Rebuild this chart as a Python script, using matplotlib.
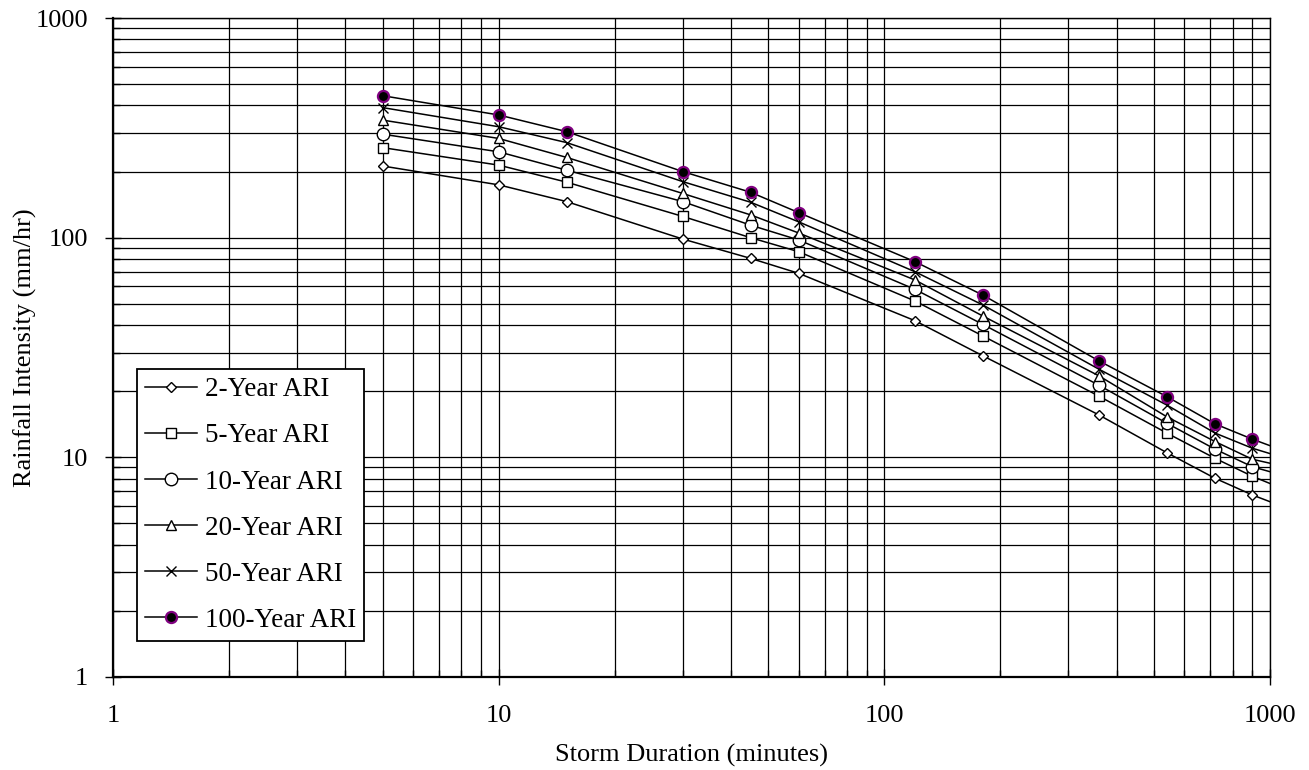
import numpy as np
import matplotlib
matplotlib.use("Agg")
import matplotlib.pyplot as plt
from matplotlib.ticker import LogLocator, NullFormatter, FixedLocator, FixedFormatter

plt.rcParams['font.family'] = ['Liberation Serif', 'DejaVu Serif']

# storm durations (minutes); last entry is where the curves meet the right edge (no marker)
duration = [5, 10, 15, 30, 45, 60, 120, 180, 360, 540, 720, 900, 1000]

# rainfall intensity (mm/hr)
ari_2 = [212, 174, 146, 98.6, 80.5, 68.8, 41.9, 29.0, 15.6, 10.5, 8.03, 6.74, 6.28]
ari_5 = [257, 214, 179, 125, 100, 86.3, 51.5, 35.7, 19.0, 12.9, 9.9, 8.2, 7.6]
ari_10 = [296, 246, 203, 146, 114, 97.6, 58.2, 40.3, 21.3, 14.3, 10.9, 9.06, 8.6]
ari_20 = [343, 283, 232, 159, 127, 105, 64.2, 44.0, 23.5, 15.3, 11.8, 9.8, 9.4]
ari_50 = [391, 320, 271, 180, 145, 118, 70.0, 49.4, 25.2, 17.3, 12.9, 11.0, 10.4]
ari_100 = [443, 362, 304, 200, 161, 130, 77.8, 54.8, 27.5, 18.9, 14.2, 12.1, 11.3]

labels = ["2-Year ARI", "5-Year ARI", "10-Year ARI", "20-Year ARI", "50-Year ARI", "100-Year ARI"]

fig = plt.figure(figsize=(13.09, 7.70), dpi=100)
ax = fig.add_axes([0.0863, 0.1208, 0.8839, 0.8558])

n_mark = len(duration) - 1
styles = [
    dict(marker="D", ms=5.0, mfc="white", mec="black", mew=1.0),
    dict(marker="s", ms=6.5, mfc="white", mec="black", mew=1.0),
    dict(marker="o", ms=9.0, mfc="white", mec="black", mew=1.0),
    dict(marker="^", ms=6.5, mfc="white", mec="black", mew=1.0),
    dict(marker="x", ms=6.5, mfc="none", mec="black", mew=1.0),
    dict(marker="o", ms=8.0, mfc="black", mec="#800080", mew=1.6),
]
series = [ari_2, ari_5, ari_10, ari_20, ari_50, ari_100]
for vals, lab, st in zip(series, labels, styles):
    ax.plot(duration, vals, color="black", lw=1.1, label=lab,
            markevery=list(range(n_mark)), zorder=3, **st)

ax.set_xscale("log")
ax.set_yscale("log")
ax.set_xlim(1, 1000)
ax.set_ylim(1, 1000)

ax.xaxis.set_major_locator(FixedLocator([1, 10, 100, 1000]))
ax.xaxis.set_major_formatter(FixedFormatter(["1", "10", "100", "1000"]))
ax.yaxis.set_major_locator(FixedLocator([1, 10, 100, 1000]))
ax.yaxis.set_major_formatter(FixedFormatter(["1", "10", "100", "1000"]))
ax.xaxis.set_minor_locator(LogLocator(base=10, subs=np.arange(2, 10)))
ax.yaxis.set_minor_locator(LogLocator(base=10, subs=np.arange(2, 10)))
ax.xaxis.set_minor_formatter(NullFormatter())
ax.yaxis.set_minor_formatter(NullFormatter())

ax.grid(True, which="both", color="black", lw=0.9)
ax.set_axisbelow(True)

ax.tick_params(which="major", direction="inout", length=12, width=1.0, labelsize=19)
ax.tick_params(which="minor", direction="in", length=5, width=1.0)
ax.tick_params(axis="x", which="major", pad=14)
ax.tick_params(axis="y", which="major", pad=12)

for sp in ax.spines.values():
    sp.set_linewidth(1.0)
ax.spines["left"].set_linewidth(1.6)
ax.spines["bottom"].set_linewidth(1.6)

ax.set_xlabel("Storm Duration (minutes)", fontsize=19, labelpad=12)
ax.set_ylabel("Rainfall Intensity (mm/hr)", fontsize=19, labelpad=-1)

leg = ax.legend(loc="lower left", bbox_to_anchor=(0.0207, 0.0546), fontsize=19.5,
                frameon=True, fancybox=False, framealpha=1, edgecolor="black",
                handlelength=1.9, handletextpad=0.3, labelspacing=0.78,
                borderpad=0.3, borderaxespad=0)
leg.get_frame().set_linewidth(1.3)

fig.savefig("out.png", dpi=100)
